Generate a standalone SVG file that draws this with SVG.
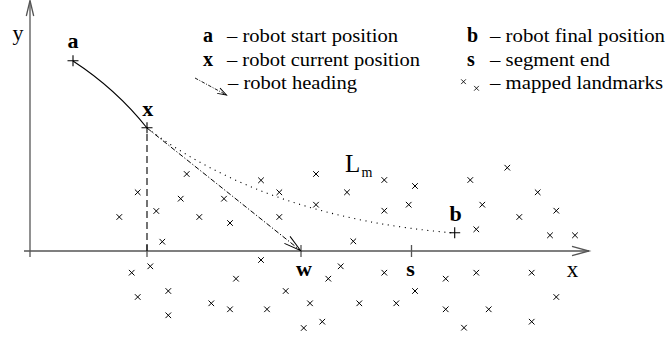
<svg xmlns="http://www.w3.org/2000/svg" xmlns:xlink="http://www.w3.org/1999/xlink" width="668" height="341" viewBox="0 0 668 341">
<style>
  .t { font-family: "Liberation Serif", "Times New Roman", serif; fill: #000; }
  .lg { font-size: 19px; }
  .bl { font-size: 20px; font-weight: bold; }
  .pl { font-size: 22px; font-weight: bold; text-anchor: middle; }
  .ax { stroke: #555; stroke-width: 1.3; fill: none; }
  .lm { stroke: #000; stroke-width: 1; fill: none; }
  .pt { stroke: #000; stroke-width: 1.1; fill: none; }
</style>
<defs>
  <path id="cr" d="M-2.8,-2.8 L2.8,2.8 M-2.8,2.8 L2.8,-2.8" class="lm"/>
  <path id="pl" d="M-5.5,0 H5.5 M0,-5.5 V5.5" class="pt"/>
  <marker id="ah" markerUnits="userSpaceOnUse" markerWidth="20" markerHeight="12" viewBox="-18 -6 20 12" refX="0" refY="0" orient="auto" overflow="visible">
    <path d="M-17,-4.5 L0,0 L-17,4.5" fill="none" stroke="#000" stroke-width="1" stroke-dasharray="none"/>
  </marker>
  <marker id="ahs" markerUnits="userSpaceOnUse" markerWidth="12" markerHeight="8" viewBox="-10 -4 12 8" refX="0" refY="0" orient="auto" overflow="visible">
    <path d="M-9,-3 L0,0 L-9,3" fill="none" stroke="#000" stroke-width="0.9" stroke-dasharray="none"/>
  </marker>
</defs>
<rect width="668" height="341" fill="#fff"/>

<g id="axes">
  <line class="ax" x1="30" y1="0.5" x2="30" y2="257"/>
  <polyline class="ax" points="26.3,16 30,0.5 33.7,16"/>
  <line class="ax" x1="24" y1="251" x2="589" y2="251"/>
  <polyline class="ax" points="572,246.3 589,251 572,255.7"/>
  <line class="ax" x1="147" y1="245" x2="147" y2="257"/>
  <line class="ax" x1="301" y1="245" x2="301" y2="257"/>
  <line class="ax" x1="411.5" y1="245" x2="411.5" y2="257"/>
  <text class="t" x="12.5" y="40" font-size="22">y</text>
  <text class="t" x="572.5" y="277" font-size="23" text-anchor="middle">x</text>
</g>

<g id="connectors">
  <path d="M73,61 Q116,89 147,128" fill="none" stroke="#000" stroke-width="1.1"/>
  <path d="M147,128 Q267,218 455,233" fill="none" stroke="#000" stroke-width="1.1" stroke-dasharray="1.1 4.6"/>
  <line x1="147" y1="128" x2="300.5" y2="250.5" stroke="#000" stroke-width="1" stroke-dasharray="5 2 1.2 2" marker-end="url(#ah)"/>
  <line x1="147" y1="134" x2="147" y2="251" stroke="#000" stroke-width="1.1" stroke-dasharray="7 4"/>
</g>

<g id="node-a">
  <use xlink:href="#pl" x="73" y="60.7"/>
  <text class="t pl" x="73" y="48">a</text>
</g>
<g id="node-x">
  <use xlink:href="#pl" x="147" y="127.7"/>
  <text class="t pl" x="147.8" y="116">x</text>
</g>
<g id="node-b">
  <use xlink:href="#pl" x="454.7" y="232.7"/>
  <text class="t pl" x="455.5" y="220.5">b</text>
</g>
<g id="node-w">
  <text class="t pl" x="304" y="276">w</text>
</g>
<g id="node-s">
  <text class="t pl" x="410.5" y="276">s</text>
</g>
<g id="label-Lm">
  <text class="t" x="345" y="171.7" font-size="25">L</text>
  <text class="t" x="361.5" y="176.7" font-size="14">m</text>
</g>

<g id="landmarks">
  <use xlink:href="#cr" x="186.7" y="174"/>
  <use xlink:href="#cr" x="137.7" y="192.3"/>
  <use xlink:href="#cr" x="180.7" y="198.7"/>
  <use xlink:href="#cr" x="156.3" y="211"/>
  <use xlink:href="#cr" x="119.3" y="217"/>
  <use xlink:href="#cr" x="199.3" y="217"/>
  <use xlink:href="#cr" x="230" y="223"/>
  <use xlink:href="#cr" x="224" y="198.7"/>
  <use xlink:href="#cr" x="261" y="180.3"/>
  <use xlink:href="#cr" x="279.3" y="192.3"/>
  <use xlink:href="#cr" x="279.3" y="217"/>
  <use xlink:href="#cr" x="316" y="174"/>
  <use xlink:href="#cr" x="316" y="204.7"/>
  <use xlink:href="#cr" x="162.3" y="241.7"/>
  <use xlink:href="#cr" x="150.3" y="266.3"/>
  <use xlink:href="#cr" x="131.7" y="272.7"/>
  <use xlink:href="#cr" x="261" y="260"/>
  <use xlink:href="#cr" x="236" y="278.7"/>
  <use xlink:href="#cr" x="137.7" y="297"/>
  <use xlink:href="#cr" x="168.3" y="291"/>
  <use xlink:href="#cr" x="168.3" y="315.3"/>
  <use xlink:href="#cr" x="211.3" y="303.3"/>
  <use xlink:href="#cr" x="230" y="309.3"/>
  <use xlink:href="#cr" x="267" y="309.3"/>
  <use xlink:href="#cr" x="285.7" y="291"/>
  <use xlink:href="#cr" x="310" y="303.3"/>
  <use xlink:href="#cr" x="328.3" y="278.7"/>
  <use xlink:href="#cr" x="303.7" y="328"/>
  <use xlink:href="#cr" x="322.3" y="321.7"/>
  <use xlink:href="#cr" x="340.7" y="266.3"/>
  <use xlink:href="#cr" x="384.3" y="180"/>
  <use xlink:href="#cr" x="415" y="186"/>
  <use xlink:href="#cr" x="347" y="192.3"/>
  <use xlink:href="#cr" x="470.3" y="180"/>
  <use xlink:href="#cr" x="507.3" y="167.7"/>
  <use xlink:href="#cr" x="537.7" y="192.3"/>
  <use xlink:href="#cr" x="384.3" y="210.7"/>
  <use xlink:href="#cr" x="408.7" y="204.7"/>
  <use xlink:href="#cr" x="482.3" y="204.7"/>
  <use xlink:href="#cr" x="556.3" y="210.7"/>
  <use xlink:href="#cr" x="519.3" y="217"/>
  <use xlink:href="#cr" x="476.3" y="229.3"/>
  <use xlink:href="#cr" x="550" y="235.3"/>
  <use xlink:href="#cr" x="575" y="235.3"/>
  <use xlink:href="#cr" x="353.3" y="241.3"/>
  <use xlink:href="#cr" x="384.3" y="272.7"/>
  <use xlink:href="#cr" x="445.7" y="278.7"/>
  <use xlink:href="#cr" x="476.3" y="272.7"/>
  <use xlink:href="#cr" x="531.7" y="272.7"/>
  <use xlink:href="#cr" x="415" y="291"/>
  <use xlink:href="#cr" x="359.3" y="303.3"/>
  <use xlink:href="#cr" x="396.3" y="303.3"/>
  <use xlink:href="#cr" x="445.7" y="309.3"/>
  <use xlink:href="#cr" x="488.7" y="309.3"/>
  <use xlink:href="#cr" x="556.3" y="297"/>
  <use xlink:href="#cr" x="464" y="327.7"/>
  <use xlink:href="#cr" x="531.7" y="321.7"/>
</g>

<g id="legend">
  <text class="t bl" x="203" y="42.3">a</text>
  <text class="t lg" x="227" y="42.3" textLength="171" lengthAdjust="spacingAndGlyphs">– robot start position</text>
  <text class="t bl" x="203" y="66">x</text>
  <text class="t lg" x="227" y="66" textLength="193" lengthAdjust="spacingAndGlyphs">– robot current position</text>
  <line x1="195" y1="78" x2="226.5" y2="95" stroke="#000" stroke-width="0.9" stroke-dasharray="3.5 1.5 1 1.5" marker-end="url(#ahs)"/>
  <text class="t lg" x="228" y="89.3" textLength="129" lengthAdjust="spacingAndGlyphs">– robot heading</text>
  <text class="t bl" x="467" y="42.3">b</text>
  <text class="t lg" x="490" y="42.3" textLength="175" lengthAdjust="spacingAndGlyphs">– robot final position</text>
  <text class="t bl" x="467" y="66">s</text>
  <text class="t lg" x="490" y="66" textLength="120" lengthAdjust="spacingAndGlyphs">– segment end</text>
  <use xlink:href="#cr" transform="translate(463.5 81.7) scale(0.85)"/>
  <use xlink:href="#cr" transform="translate(476.5 88.3) scale(0.85)"/>
  <text class="t lg" x="490" y="89.3" textLength="173" lengthAdjust="spacingAndGlyphs">– mapped landmarks</text>
</g>
</svg>
